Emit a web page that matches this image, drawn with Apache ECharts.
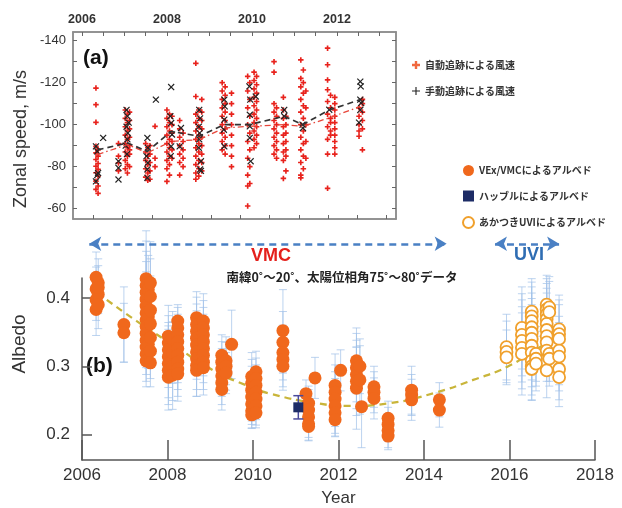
<!DOCTYPE html>
<html><head><meta charset="utf-8">
<script src="https://cdn.jsdelivr.net/npm/echarts@6/dist/echarts.min.js"></script>
<style>html,body{margin:0;padding:0;background:#fff}#c{width:622px;height:508px}</style>
</head><body><div id="c"></div>
<script>
// ---------- data: panel (a) zonal speed ----------
const topYearLabels = [2006, 2008, 2010, 2012];
const topYearTicks = [2006, 2006.5, 2007, 2007.5, 2008, 2008.5, 2009, 2009.5, 2010, 2010.5, 2011, 2011.5, 2012, 2012.5, 2013];
const topBottomTicks = [2006.27, 2006.95, 2007.65, 2008.36, 2009.04, 2009.73, 2010.41, 2011.12, 2011.80, 2012.48, 2013.16];
const speedLabels = [-140, -120, -100, -80, -60];
const speedTicks = [-140, -130, -120, -110, -100, -90, -80, -70, -60];

// automatic tracking (red +): [year, [speeds]]
const autoWinds = [
  [2006.33, [-117.4, -109.5, -101.1, -89.7, -86.6, -83.4, -80.2, -77.1, -73.1, -69.2]],
  [2006.38, [-88, -85, -81.5, -78.7, -75.5, -70.8, -67.3]],
  [2006.86, [-91, -85, -81.8, -78]],
  [2007.02, [-107, -103, -99, -95, -91, -87, -83, -79]],
  [2007.07, [-105, -101, -97, -93, -89, -85, -81, -77]],
  [2007.12, [-106, -102, -98, -94, -90, -86, -80, -88]],
  [2007.50, [-91, -87, -83, -79, -75]],
  [2007.55, [-89, -85, -81, -77, -73.5]],
  [2007.60, [-90, -86, -82, -78, -74]],
  [2007.72, [-99.2, -84, -80]],
  [2008.00, [-107, -103, -99, -95, -91, -87, -83, -79, -73]],
  [2008.06, [-105, -101, -97, -93, -89, -85, -81, -76]],
  [2008.12, [-104, -100, -96, -92, -88, -84]],
  [2008.30, [-102, -98, -94, -90, -86, -82, -76]],
  [2008.38, [-96, -92, -88, -84, -80]],
  [2008.68, [-129.2, -113.4, -105, -101, -97, -93, -89, -85, -81, -77, -74]],
  [2008.75, [-107, -103, -99, -95, -91, -87, -83, -79, -75.5]],
  [2008.82, [-112, -106, -102, -98, -94, -90, -86, -82, -78]],
  [2009.30, [-120, -116, -112, -108, -104, -100, -96, -92, -88]],
  [2009.37, [-118, -114, -110, -106, -102, -98, -94, -90, -86]],
  [2009.52, [-115, -110, -105, -100, -95, -90, -85, -80]],
  [2009.90, [-123, -116, -108, -100, -92, -84, -76, -70.8, -61.3]],
  [2009.95, [-120, -112, -104, -96, -88, -80, -72]],
  [2010.05, [-125, -121, -117, -113, -109, -105, -101, -97, -93, -89]],
  [2010.11, [-123, -119, -115, -111, -107, -103, -99, -95, -91]],
  [2010.52, [-130, -125, -110, -106, -102, -98, -94, -90, -86]],
  [2010.58, [-108, -104, -100, -96, -92, -88, -84]],
  [2010.74, [-113, -107, -103, -99, -95, -91, -87, -83, -74.4]],
  [2010.80, [-104, -100, -96, -92, -88, -85, -78]],
  [2011.15, [-130.8, -122, -118, -112, -106, -100, -94, -88, -82, -76, -74.7]],
  [2011.21, [-126, -120, -115, -109, -103, -97, -91, -85, -79]],
  [2011.27, [-116, -108, -100, -92, -84]],
  [2011.78, [-136.4, -128.5, -121.3, -116.6, -111, -105, -99, -93, -86, -69.7]],
  [2011.85, [-114, -108, -103, -101, -97, -95]],
  [2011.95, [-113, -110, -107, -104, -101, -98, -95, -92, -89, -86]],
  [2012.52, [-108, -104, -100, -97, -94.5]],
  [2012.60, [-112, -110, -106, -102, -98, -88]]
];
// manual tracking (black x): [year, speed]
const manualWinds = [
  [2006.33, -89.7], [2006.36, -87.3], [2006.38, -77], [2006.36, -76], [2006.33, -73], [2006.50, -93.7],
  [2006.86, -82.6], [2006.86, -79.4], [2006.86, -73.9],
  [2007.05, -107], [2007.07, -104], [2007.10, -101], [2007.05, -99], [2007.08, -96], [2007.07, -93], [2007.03, -90], [2007.06, -86],
  [2007.54, -93.7], [2007.55, -89], [2007.52, -85], [2007.55, -81.8], [2007.54, -78.7], [2007.54, -74.7], [2007.74, -111.9],
  [2008.10, -117.9], [2008.08, -104], [2008.10, -100.8], [2008.12, -95.3], [2008.10, -89.7], [2008.09, -85], [2008.33, -98.4], [2008.30, -89.7],
  [2008.76, -107], [2008.78, -103], [2008.75, -99], [2008.77, -96], [2008.76, -93], [2008.75, -89], [2008.80, -82.6], [2008.78, -78.7], [2008.80, -78],
  [2009.35, -111.9], [2009.36, -108.7], [2009.35, -102.4], [2009.34, -97.6], [2009.35, -89.7],
  [2009.94, -118.2], [2009.96, -111.9], [2009.95, -104.7], [2009.95, -99.2], [2009.95, -93.7], [2009.97, -82.6], [2010.09, -113.4],
  [2010.76, -107], [2010.76, -104],
  [2011.19, -100], [2011.20, -98.4],
  [2011.82, -107.1],
  [2012.55, -120.5], [2012.56, -118.2], [2012.55, -111.9], [2012.57, -110.3], [2012.55, -107], [2012.52, -101]
];
const autoTrend = [[2006.37, -85.8], [2007.07, -90.5], [2007.54, -86.6], [2008.10, -92], [2008.76, -92.9], [2009.35, -98.4], [2009.94, -99.2], [2010.76, -100], [2011.19, -99.2], [2011.82, -103.2], [2012.55, -108.7]];
const manualTrend = [[2006.37, -88], [2007.07, -91.3], [2007.54, -87.3], [2008.10, -96.8], [2008.76, -94.5], [2009.35, -100], [2009.94, -100], [2010.76, -104], [2011.19, -100], [2011.82, -107], [2012.55, -111.9]];

// ---------- data: panel (b) albedo ----------
const albedoLabels = [0.2, 0.3, 0.4];
// [year, [albedos], [errors]]
const vmc2006to2008 = [
  [2006.33, [0.430, 0.413, 0.397, 0.383], [0.037, 0.032, 0.030, 0.038]],
  [2006.38, [0.422, 0.405, 0.390, 0.415], [0.035, 0.028, 0.035, 0.032]],
  [2006.98, [0.361, 0.349], [0.055, 0.043]],
  [2007.50, [0.428, 0.418, 0.408, 0.398, 0.388, 0.378, 0.368, 0.358, 0.348, 0.338, 0.328, 0.318, 0.308], [0.070, 0.065, 0.060, 0.055, 0.050, 0.050, 0.045, 0.045, 0.040, 0.040, 0.040, 0.040, 0.038]],
  [2007.55, [0.412, 0.372, 0.332], [0.050, 0.040, 0.035]],
  [2007.60, [0.422, 0.402, 0.382, 0.362, 0.342, 0.322, 0.305], [0.060, 0.055, 0.050, 0.045, 0.040, 0.040, 0.035]],
  [2008.02, [0.344, 0.334, 0.324, 0.314, 0.304, 0.294, 0.284], [0.045, 0.040, 0.040, 0.045, 0.050, 0.050, 0.048]],
  [2008.12, [0.340, 0.320, 0.300, 0.287], [0.040, 0.045, 0.050, 0.050]],
  [2008.24, [0.366, 0.356, 0.346, 0.336, 0.326, 0.316, 0.306, 0.296, 0.289], [0.024, 0.030, 0.030, 0.035, 0.035, 0.040, 0.040, 0.040, 0.040]],
  [2008.68, [0.371, 0.361, 0.351, 0.341, 0.331, 0.321, 0.311, 0.301, 0.294], [0.038, 0.040, 0.040, 0.040, 0.040, 0.040, 0.045, 0.045, 0.038]],
  [2008.84, [0.366, 0.356, 0.346, 0.336, 0.326, 0.316, 0.306, 0.298], [0.040, 0.040, 0.040, 0.040, 0.040, 0.040, 0.040, 0.040]]
];
const vmc2009to2011 = [
  [2009.27, [0.316, 0.306, 0.296, 0.286, 0.276, 0.266], [0.030, 0.030, 0.030, 0.030, 0.032, 0.030]],
  [2009.37, [0.308, 0.300, 0.290], [0.035, 0.035, 0.030]],
  [2009.50, [0.332], [0.050]],
  [2009.97, [0.285, 0.275, 0.265, 0.255, 0.245, 0.235, 0.229], [0.035, 0.035, 0.035, 0.035, 0.030, 0.025, 0.020]],
  [2010.07, [0.292, 0.282, 0.272, 0.262, 0.252, 0.242, 0.232], [0.030, 0.030, 0.030, 0.030, 0.030, 0.028, 0.022]],
  [2010.70, [0.352, 0.335, 0.320, 0.310, 0.300], [0.060, 0.045, 0.040, 0.040, 0.035]],
  [2011.24, [0.260], [0.020]],
  [2011.30, [0.246, 0.236, 0.226, 0.216, 0.212], [0.025, 0.030, 0.030, 0.025, 0.020]],
  [2011.45, [0.283], [0.030]],
  [2011.92, [0.272, 0.262, 0.252, 0.242, 0.232, 0.222], [0.046, 0.040, 0.040, 0.040, 0.035, 0.024]],
  [2012.05, [0.294], [0.030]]
];
const vmc2012to2014 = [
  [2012.42, [0.308, 0.298, 0.288, 0.278, 0.268], [0.048, 0.050, 0.050, 0.050, 0.060]],
  [2012.50, [0.300, 0.280], [0.040, 0.050]],
  [2012.54, [0.241], [0.060]],
  [2012.83, [0.270, 0.262, 0.253], [0.030, 0.030, 0.030]],
  [2013.16, [0.224, 0.215, 0.206, 0.198], [0.025, 0.025, 0.025, 0.020]],
  [2013.71, [0.265, 0.258, 0.251], [0.035, 0.030, 0.030]],
  [2014.36, [0.251, 0.236], [0.025, 0.025]]
];
const uviClusters = [
  [2015.93, [0.328, 0.321, 0.313], [0.048, 0.045, 0.040]],
  [2016.29, [0.356, 0.346, 0.337, 0.327, 0.318], [0.060, 0.060, 0.060, 0.060, 0.060]],
  [2016.52, [0.380, 0.373, 0.366, 0.357, 0.349, 0.340, 0.330, 0.320, 0.308, 0.300, 0.296], [0.048, 0.050, 0.050, 0.050, 0.050, 0.050, 0.050, 0.050, 0.050, 0.050, 0.045]],
  [2016.62, [0.318, 0.311, 0.304], [0.040, 0.040, 0.040]],
  [2016.87, [0.390, 0.383, 0.376, 0.369, 0.362, 0.353, 0.344, 0.335, 0.323, 0.294], [0.043, 0.045, 0.045, 0.045, 0.045, 0.045, 0.045, 0.045, 0.045, 0.040]],
  [2016.93, [0.386, 0.379, 0.318, 0.311], [0.045, 0.045, 0.040, 0.040]],
  [2017.16, [0.354, 0.347, 0.340, 0.323, 0.314, 0.296, 0.284], [0.050, 0.050, 0.050, 0.050, 0.050, 0.045, 0.043]]
];
const hubblePoint = [[2011.06, 0.240, 0.017]];
const fitCurve = [[2006.58, 0.397], [2007.28, 0.366], [2008.21, 0.328], [2009.07, 0.294], [2009.85, 0.272], [2010.40, 0.260], [2011.49, 0.246], [2012.27, 0.242], [2013.20, 0.246], [2014.30, 0.262], [2015.15, 0.280], [2015.94, 0.299], [2016.71, 0.328], [2017.05, 0.342]];
const vmcSpan = [2006.17, 2014.53], uviSpan = [2015.66, 2017.16], spanAlbedo = 0.479;

// ---------- build ----------
function flatWinds(cl) { const o = []; cl.forEach(([x, ys]) => ys.forEach(y => o.push([x, y]))); return o; }
function flatAlb(cl) { const o = []; cl.forEach(([x, ys, es]) => ys.forEach((y, i) => o.push([x, y, es[i]]))); return o; }
const vmcData = flatAlb(vmc2006to2008).concat(flatAlb(vmc2009to2011), flatAlb(vmc2012to2014));
const uviData = flatAlb(uviClusters);
const errData = vmcData.concat(uviData);

const FONT = "'Liberation Sans','Noto Sans CJK JP',sans-serif";
const CJK = "'Noto Sans CJK JP','Liberation Sans',sans-serif";

function errRenderer(color, cap, lw) {
  return function (params, api) {
    const x = api.value(0), y = api.value(1), e = api.value(2);
    const t = api.coord([x, y + e]), b = api.coord([x, y - e]);
    const st = { stroke: color, lineWidth: lw };
    return { type: 'group', children: [
      { type: 'line', shape: { x1: t[0], y1: t[1], x2: b[0], y2: b[1] }, style: st },
      { type: 'line', shape: { x1: t[0] - cap, y1: t[1], x2: t[0] + cap, y2: t[1] }, style: st },
      { type: 'line', shape: { x1: b[0] - cap, y1: b[1], x2: b[0] + cap, y2: b[1] }, style: st }
    ] };
  };
}

const PLUS = 'path://M3.5,0H6.5V3.5H10V6.5H6.5V10H3.5V6.5H0V3.5H3.5Z';
const THINPLUS = 'path://M4.3,0H5.7V4.3H10V5.7H5.7V10H4.3V5.7H0V4.3H4.3Z';
const boxColor = '#8c8c8c';

const chart = echarts.init(document.getElementById('c'));
chart.setOption({
  animation: false,
  backgroundColor: '#fff',
  textStyle: { fontFamily: FONT },
  grid: [
    { left: 73, top: 32, width: 323, height: 187, show: true, borderColor: boxColor, borderWidth: 1.5, backgroundColor: 'transparent' },
    { left: 82, top: 278, width: 513, height: 185 }
  ],
  xAxis: [
    { gridIndex: 0, type: 'value', position: 'top', min: 2005.79, max: 2013.39,
      axisLine: { lineStyle: { color: boxColor, width: 1.5 } },
      axisTick: { inside: true, length: 4, customValues: topYearTicks, lineStyle: { color: '#666' } },
      axisLabel: { customValues: topYearLabels, fontSize: 12.5, fontWeight: 'bold', color: '#333', margin: 6, formatter: v => String(v) },
      splitLine: { show: false } },
    { gridIndex: 0, type: 'value', position: 'bottom', min: 2005.79, max: 2013.39,
      axisLine: { lineStyle: { color: boxColor, width: 1.5 } },
      axisTick: { inside: true, length: 4, customValues: topBottomTicks, lineStyle: { color: '#666' } },
      axisLabel: { show: false }, splitLine: { show: false } },
    { gridIndex: 1, type: 'value', min: 2006, max: 2018, interval: 2,
      axisLine: { lineStyle: { color: '#555', width: 1.5 } },
      axisTick: { inside: true, length: 20, lineStyle: { color: '#555', width: 1.5 } },
      axisLabel: { fontSize: 17, color: '#333', margin: 7, formatter: v => String(v) },
      splitLine: { show: false },
      name: 'Year', nameLocation: 'middle', nameGap: 30, nameTextStyle: { fontSize: 17, color: '#333' } }
  ],
  yAxis: [
    { gridIndex: 0, type: 'value', inverse: true, min: -144.1, max: -55.1, position: 'left',
      axisLine: { lineStyle: { color: boxColor, width: 1.5 } },
      axisTick: { inside: true, length: 4, customValues: speedTicks, lineStyle: { color: '#666' } },
      axisLabel: { customValues: speedLabels, fontSize: 13, color: '#333', margin: 7 },
      splitLine: { show: false } },
    { gridIndex: 0, type: 'value', inverse: true, min: -144.1, max: -55.1, position: 'right',
      axisLine: { lineStyle: { color: boxColor, width: 1.5 } },
      axisTick: { inside: true, length: 4, customValues: speedTicks, lineStyle: { color: '#666' } },
      axisLabel: { show: false }, splitLine: { show: false } },
    { gridIndex: 1, type: 'value', min: 0.163, max: 0.429,
      axisLine: { show: true, lineStyle: { color: '#555', width: 1.5 } },
      axisTick: { inside: true, length: 10, customValues: albedoLabels, lineStyle: { color: '#555', width: 1.5 } },
      axisLabel: { customValues: albedoLabels, fontSize: 17, color: '#333', margin: 12, formatter: v => v.toFixed(1) },
      splitLine: { show: false } }
  ],
  legend: [
    { data: [{ name: '自動追跡による風速', itemStyle: { color: '#f0683e' } }, '手動追跡による風速'], left: 407, top: 55, orient: 'vertical', itemGap: 16,
      itemWidth: 8, itemHeight: 8, textStyle: { fontSize: 10, fontWeight: 'bold', color: '#333', fontFamily: CJK }, selectedMode: false },
    { data: ['VEx/VMCによるアルベド', 'ハッブルによるアルベド', 'あかつきUVIによるアルベド'], left: 457, top: 160, orient: 'vertical', itemGap: 14.5,
      itemWidth: 11, itemHeight: 11, textStyle: { fontSize: 10, fontWeight: 'bold', color: '#333', fontFamily: CJK }, selectedMode: false }
  ],
  series: [
    { name: '自動追跡による風速', type: 'scatter', xAxisIndex: 0, yAxisIndex: 0, data: flatWinds(autoWinds),
      symbol: PLUS, symbolSize: 5.5, itemStyle: { color: '#e8221c', opacity: 1 }, z: 2 },
    { name: '手動追跡による風速', type: 'scatter', xAxisIndex: 0, yAxisIndex: 0, data: manualWinds,
      symbol: THINPLUS, symbolSize: 8.5, symbolRotate: 45, itemStyle: { color: '#222', opacity: 1 }, z: 3 },
    { type: 'line', xAxisIndex: 0, yAxisIndex: 0, data: autoTrend, symbol: 'none',
      lineStyle: { color: '#e8463a', width: 1.3, type: [6, 3, 1.5, 3] }, z: 4 },
    { type: 'line', xAxisIndex: 0, yAxisIndex: 0, data: manualTrend, symbol: 'none',
      lineStyle: { color: '#333', width: 1.7, type: [6, 4] }, z: 5 },

    { type: 'custom', xAxisIndex: 2, yAxisIndex: 2, data: errData, renderItem: errRenderer('rgba(160,192,232,0.7)', 4, 1),
      encode: { x: 0, y: 1 }, clip: false, silent: true, z: 1 },
    { id: 'fit', type: 'line', xAxisIndex: 2, yAxisIndex: 2, data: fitCurve, smooth: true, symbol: 'none', clip: false,
      lineStyle: { color: '#c9b53a', width: 2.3, type: [7, 5] }, z: 2 },
    { name: 'VEx/VMCによるアルベド', type: 'scatter', xAxisIndex: 2, yAxisIndex: 2, data: vmcData.map(d => [d[0], d[1]]),
      symbol: 'circle', symbolSize: 13, clip: false, itemStyle: { color: '#f0681c', opacity: 1 }, z: 3 },
    { name: 'あかつきUVIによるアルベド', type: 'scatter', xAxisIndex: 2, yAxisIndex: 2, data: uviData.map(d => [d[0], d[1]]),
      symbol: 'circle', symbolSize: 12, clip: false, itemStyle: { color: '#fff', borderColor: '#f0a02c', borderWidth: 1.8, opacity: 1 }, z: 4 },
    { type: 'custom', xAxisIndex: 2, yAxisIndex: 2, data: hubblePoint, renderItem: errRenderer('#4a4a9c', 5, 1.5),
      encode: { x: 0, y: 1 }, clip: false, silent: true, z: 5 },
    { name: 'ハッブルによるアルベド', type: 'scatter', xAxisIndex: 2, yAxisIndex: 2, data: hubblePoint.map(d => [d[0], d[1]]),
      symbol: 'rect', symbolSize: 10, clip: false, itemStyle: { color: '#1d2c66', opacity: 1 }, z: 6 }
  ],
  graphic: [
    { type: 'text', x: 21, y: 139, rotation: Math.PI / 2, style: { text: 'Zonal speed, m/s', fontSize: 18, fill: '#333', align: 'center', verticalAlign: 'middle', fontFamily: FONT } },
    { type: 'text', x: 20, y: 344, rotation: Math.PI / 2, style: { text: 'Albedo', fontSize: 19, fill: '#333', align: 'center', verticalAlign: 'middle', fontFamily: FONT } },
    { type: 'text', left: 83, top: 48, style: { text: '(a)', fontSize: 21, fontWeight: 'bold', fill: '#111', fontFamily: FONT } },
    { type: 'text', left: 86, top: 356, style: { text: '(b)', fontSize: 21, fontWeight: 'bold', fill: '#111', fontFamily: FONT } },
    { type: 'text', x: 271, y: 256, style: { text: 'VMC', fontSize: 18, fontWeight: 'bold', fill: '#e4201c', align: 'center', verticalAlign: 'middle', fontFamily: FONT } },
    { type: 'text', x: 529, y: 255, style: { text: 'UVI', fontSize: 18, fontWeight: 'bold', fill: '#2f6db3', align: 'center', verticalAlign: 'middle', fontFamily: FONT } },
    { type: 'text', x: 342, y: 277, style: { text: '南緯0˚～20˚、太陽位相角75˚～80˚データ', fontSize: 12.5, fontWeight: 'bold', fill: '#222', align: 'center', verticalAlign: 'middle', fontFamily: CJK } }
  ]
});

// span arrows placed in data coordinates of panel (b)
const px = p => chart.convertToPixel({ xAxisIndex: 2, yAxisIndex: 2 }, p);
const a1 = px([vmcSpan[0], spanAlbedo]), a2 = px([vmcSpan[1], spanAlbedo]);
const b1 = px([uviSpan[0], spanAlbedo]), b2 = px([uviSpan[1], spanAlbedo]);
chart.setOption({ series: [{ id: 'fit', markLine: {
  silent: true, symbol: ['arrow', 'arrow'], symbolSize: [11, 12], label: { show: false },
  lineStyle: { color: '#4a80c4', width: 2.5, type: [7, 5] },
  data: [[{ x: a1[0], y: a1[1] }, { x: a2[0], y: a2[1] }], [{ x: b1[0], y: b1[1] }, { x: b2[0], y: b2[1] }]]
} }] });
</script></body></html>
